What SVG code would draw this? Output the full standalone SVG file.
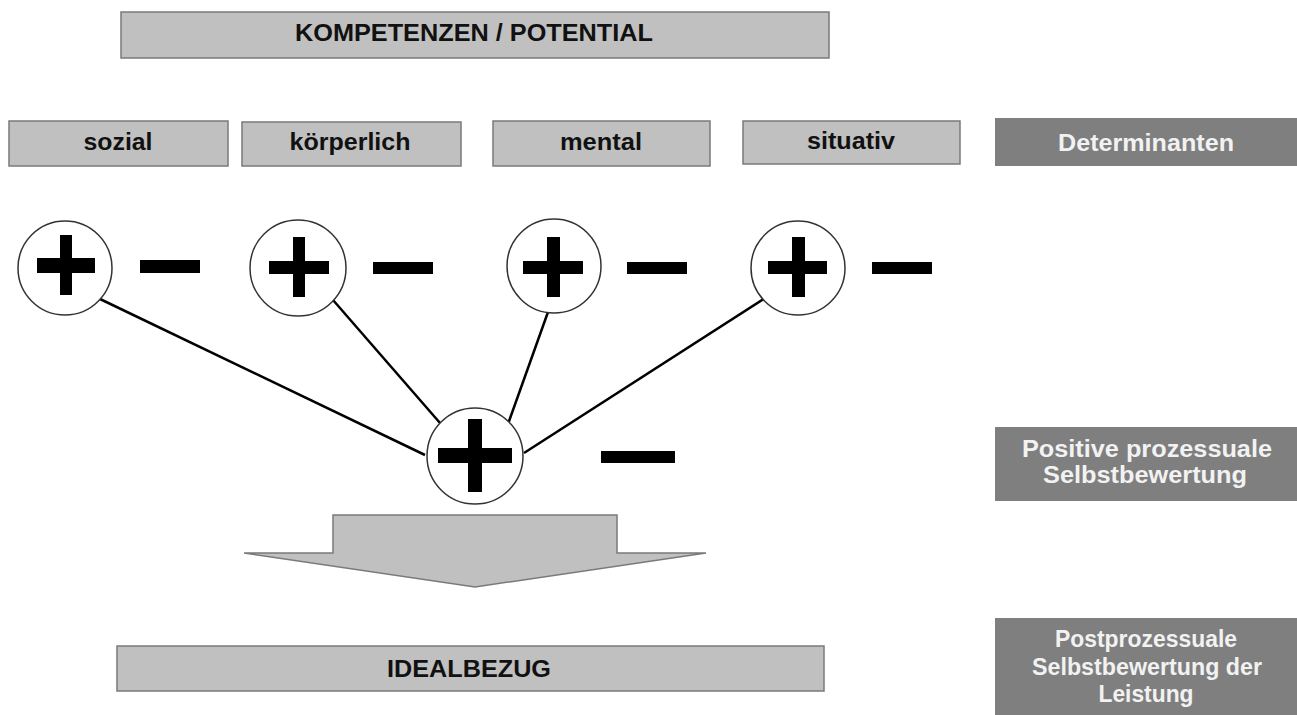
<svg xmlns="http://www.w3.org/2000/svg" width="1297" height="715" viewBox="0 0 1297 715">
<style>
.lb{fill:#c0c0c0;stroke:#7a7a7a;stroke-width:1.5}
.db{fill:#7f7f7f;stroke:none}
.t{font-family:"Liberation Sans",Arial,sans-serif;font-weight:bold;font-size:23px;text-anchor:middle;fill:#111}
.w{fill:#f2f2f2}
.c{fill:#fff;stroke:#333;stroke-width:1.5}
.s{fill:#000}
.ln{stroke:#000;stroke-width:2.5;fill:none}
</style>
<rect width="1297" height="715" fill="#fff"/>
<g id="kompetenzen">
<rect class="lb" x="121" y="12" width="708" height="46"/>
<text class="t" x="474" y="41" textLength="358" lengthAdjust="spacingAndGlyphs">KOMPETENZEN / POTENTIAL</text>
</g>
<g id="sozial">
<rect class="lb" x="9" y="121" width="219" height="45"/>
<text class="t" x="118" y="150" textLength="69" lengthAdjust="spacingAndGlyphs">sozial</text>
</g>
<g id="koerperlich">
<rect class="lb" x="242" y="122" width="219" height="44"/>
<text class="t" x="350" y="150" textLength="121" lengthAdjust="spacingAndGlyphs">körperlich</text>
</g>
<g id="mental">
<rect class="lb" x="493" y="121" width="217" height="45"/>
<text class="t" x="601" y="150" textLength="82" lengthAdjust="spacingAndGlyphs">mental</text>
</g>
<g id="situativ">
<rect class="lb" x="743" y="121" width="217" height="43"/>
<text class="t" x="851" y="149" textLength="88" lengthAdjust="spacingAndGlyphs">situativ</text>
</g>
<g id="determinanten">
<rect class="db" x="995" y="118" width="302" height="48"/>
<text class="t w" x="1146" y="151" textLength="176" lengthAdjust="spacingAndGlyphs">Determinanten</text>
</g>
<g id="connectors">
<line class="ln" x1="100" y1="299" x2="425" y2="455"/>
<line class="ln" x1="333" y1="300" x2="440" y2="423"/>
<line class="ln" x1="548" y1="312" x2="508" y2="424"/>
<line class="ln" x1="765" y1="298" x2="524" y2="453"/>
</g>
<g id="pm-sozial">
<circle class="c" cx="65" cy="268" r="47"/>
<rect class="s" x="37" y="258" width="58" height="15"/>
<rect class="s" x="60" y="235" width="12" height="60"/>
<rect class="s" x="140" y="260" width="60" height="13"/>
</g>
<g id="pm-koerperlich">
<circle class="c" cx="298" cy="268" r="48"/>
<rect class="s" x="269" y="261" width="60" height="13"/>
<rect class="s" x="293" y="237" width="12" height="60"/>
<rect class="s" x="373" y="262" width="60" height="12"/>
</g>
<g id="pm-mental">
<circle class="c" cx="554" cy="266" r="47"/>
<rect class="s" x="523" y="261" width="60" height="13"/>
<rect class="s" x="547" y="237" width="13" height="60"/>
<rect class="s" x="627" y="262" width="60" height="12"/>
</g>
<g id="pm-situativ">
<circle class="c" cx="798" cy="268" r="47"/>
<rect class="s" x="768" y="261" width="59" height="13"/>
<rect class="s" x="792" y="237" width="13" height="60"/>
<rect class="s" x="872" y="262" width="60" height="12"/>
</g>
<g id="pm-gesamt">
<circle class="c" cx="475" cy="456" r="48"/>
<rect class="s" x="438" y="448" width="74" height="15"/>
<rect class="s" x="468" y="419" width="14" height="73"/>
<rect class="s" x="601" y="451" width="74" height="12"/>
</g>
<g id="positive">
<rect class="db" x="995" y="427" width="302" height="74"/>
<text class="t w" x="1147" y="457" textLength="250" lengthAdjust="spacingAndGlyphs">Positive prozessuale</text>
<text class="t w" x="1145" y="483" textLength="204" lengthAdjust="spacingAndGlyphs">Selbstbewertung</text>
</g>
<g id="pfeil">
<polygon class="lb" points="333,515 617,515 617,553 706,553 475,587 244,553 333,553"/>
</g>
<g id="idealbezug">
<rect class="lb" x="117" y="646" width="707" height="45"/>
<text class="t" x="469" y="677" textLength="164" lengthAdjust="spacingAndGlyphs">IDEALBEZUG</text>
</g>
<g id="postprozessuale">
<rect class="db" x="995" y="618" width="302" height="97"/>
<text class="t w" x="1146" y="647" textLength="182" lengthAdjust="spacingAndGlyphs">Postprozessuale</text>
<text class="t w" x="1147" y="675" textLength="230" lengthAdjust="spacingAndGlyphs">Selbstbewertung der</text>
<text class="t w" x="1146" y="702" textLength="95" lengthAdjust="spacingAndGlyphs">Leistung</text>
</g>
</svg>
